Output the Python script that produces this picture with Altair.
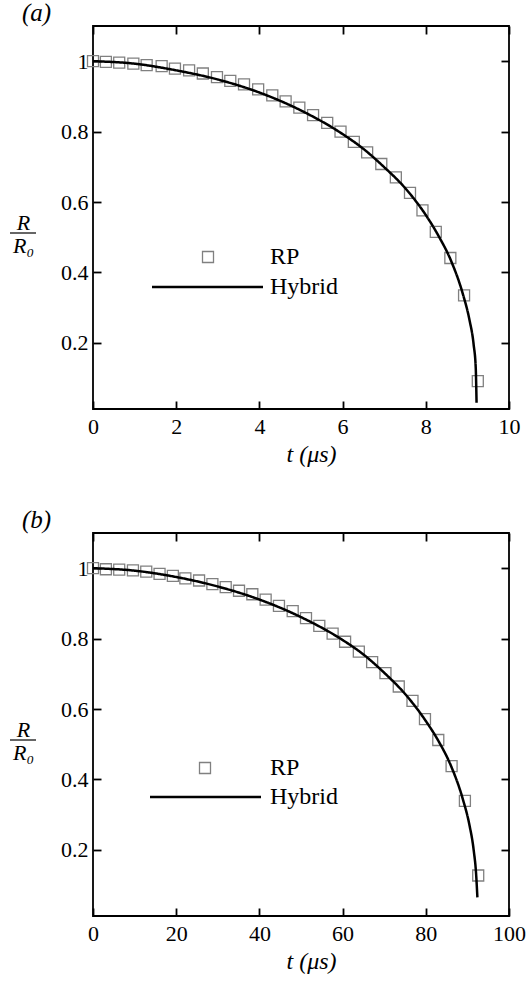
import altair as alt
import pandas as pd

FONT = "'Liberation Serif', 'Times New Roman', Times, 'DejaVu Serif', serif"

# ---- panel (a): t in microseconds ----
t_rp_a = [0, 0.31, 0.63, 0.97, 1.29, 1.65, 1.97, 2.31, 2.64, 2.98, 3.30, 3.63, 3.97, 4.31,
          4.63, 4.96, 5.29, 5.63, 5.95, 6.27, 6.59, 6.93, 7.28, 7.62, 7.92, 8.24, 8.59, 8.92, 9.25]
r_rp_a = [1.0, 0.998, 0.996, 0.993, 0.989, 0.986, 0.979, 0.974, 0.965, 0.955, 0.944, 0.934, 0.920,
          0.903, 0.886, 0.868, 0.847, 0.825, 0.800, 0.771, 0.741, 0.708, 0.670, 0.626, 0.576,
          0.515, 0.441, 0.335, 0.091]
t_hy_a = [0, 1, 2, 3, 4, 5, 6, 6.5, 7, 7.5, 8, 8.3, 8.6, 8.9, 9.05, 9.15, 9.2, 9.22]
r_hy_a = [1.0, 0.993, 0.974, 0.948, 0.911, 0.860, 0.793, 0.751, 0.699, 0.640, 0.563, 0.505,
          0.435, 0.335, 0.265, 0.195, 0.13, 0.03]

# ---- panel (b) ----
t_rp_b = [0, 3.1, 6.3, 9.6, 12.8, 16.0, 19.2, 22.2, 25.5, 28.7, 31.9, 35.1, 38.3, 41.5, 44.7,
          48.0, 51.2, 54.4, 57.6, 60.6, 63.9, 67.1, 70.3, 73.5, 76.8, 79.8, 83.0, 86.2, 89.4, 92.6]
r_rp_b = [1.0, 0.997, 0.996, 0.994, 0.990, 0.984, 0.978, 0.971, 0.965, 0.955, 0.946, 0.936,
          0.926, 0.911, 0.893, 0.878, 0.858, 0.836, 0.814, 0.791, 0.763, 0.733, 0.702, 0.664,
          0.623, 0.571, 0.512, 0.438, 0.339, 0.127]
t_hy_b = [0, 10, 20, 30, 40, 50, 60, 65, 70, 75, 80, 83, 86, 89, 90.5, 91.5, 92.1, 92.4]
r_hy_b = [1.0, 0.993, 0.975, 0.948, 0.911, 0.861, 0.796, 0.755, 0.703, 0.643, 0.566, 0.510,
          0.440, 0.34, 0.27, 0.20, 0.13, 0.065]

xticks_a = [0, 2, 4, 6, 8, 10]
xticks_b = [0, 20, 40, 60, 80, 100]
yticks = [0.2, 0.4, 0.6, 0.8, 1.0]
ydomain = [0.012, 1.1]

W, H = 416, 383


def panel(t_rp, r_rp, t_hy, r_hy, xmax, xticks, label, leg):
    df_rp = pd.DataFrame({"t": t_rp, "r": r_rp, "series": ["RP"] * len(t_rp)})
    df_hy = pd.DataFrame({"t": t_hy, "r": r_hy, "series": ["Hybrid"] * len(t_hy)})
    xs = alt.Scale(domain=[0, xmax], nice=False, zero=False)
    ys = alt.Scale(domain=ydomain, nice=False, zero=False)
    common = dict(tickSize=8, offset=-8, domain=False, grid=False, tickColor="black",
                  tickWidth=1.8, labelFont=FONT, labelFontSize=22, labelColor="black",
                  labelOverlap=False, labelFlush=False)
    x_bottom = alt.Axis(orient="bottom", values=xticks, format="d", labelPadding=7,
                        title="t (μs)", titleFont=FONT, titleFontStyle="italic",
                        titleFontWeight="normal", titleFontSize=24, titleColor="black",
                        titleX=218, titleY=53, titleBaseline="middle", titleAlign="center",
                        **common)
    y_left = alt.Axis(orient="left", values=yticks, format="~g", labelPadding=5,
                      title=["R", "R₀"], titleFont=FONT, titleFontStyle="italic",
                      titleFontWeight="normal", titleFontSize=22, titleColor="black",
                      titleAngle=0, titleAlign="center", titleBaseline="middle",
                      titleLineHeight=23, titleX=-78, titleY=196, **common)
    x_top = alt.Axis(orient="top", values=xticks, labels=False, title=None, **common)
    y_right = alt.Axis(orient="right", values=yticks, labels=False, title=None, **common)

    pts = alt.Chart(df_rp).mark_point(
        shape="square", filled=False, size=121, color="#808080", strokeWidth=1.3, opacity=1
    ).encode(
        x=alt.X("t:Q", scale=xs, axis=x_bottom),
        y=alt.Y("r:Q", scale=ys, axis=y_left),
        shape=alt.Shape("series:N", scale=alt.Scale(domain=["RP"], range=["square"]),
                        legend=alt.Legend(orient="none", legendX=leg["px"], legendY=leg["py"],
                                          title=None, padding=0, symbolType="square",
                                          symbolSize=121, symbolStrokeColor="#808080",
                                          symbolFillColor="white", symbolStrokeWidth=1.3,
                                          labelFont=FONT, labelFontSize=24, labelColor="black",
                                          labelOffset=leg["po"], clipHeight=24)),
    )
    ln = alt.Chart(df_hy).mark_line(
        color="black", strokeWidth=2.5, interpolate="monotone"
    ).encode(
        x=alt.X("t:Q", scale=xs, axis=x_top),
        y=alt.Y("r:Q", scale=ys, axis=y_right),
        strokeDash=alt.StrokeDash("series:N",
                                  scale=alt.Scale(domain=["Hybrid"], range=[[1, 0]]),
                                  legend=alt.Legend(orient="none", legendX=leg["lx"],
                                                    legendY=leg["ly"], title=None, padding=0,
                                                    symbolType="stroke", symbolSize=12321,
                                                    symbolStrokeColor="black",
                                                    symbolStrokeWidth=2.5,
                                                    labelFont=FONT, labelFontSize=24,
                                                    labelColor="black",
                                                    labelOffset=leg["lo"], clipHeight=24)),
    )
    bar = alt.Chart(alt.Data(values=[{"k": 0}])).mark_rule(
        color="black", strokeWidth=1.2
    ).encode(x=alt.value(-83), x2=alt.value(-57), y=alt.value(207))

    return alt.layer(pts, ln, bar).resolve_axis(
        x="independent", y="independent"
    ).properties(
        width=W, height=H,
        title=alt.TitleParams(label, anchor="start", frame="group", dx=-71, font=FONT,
                              fontSize=25, fontStyle="italic", fontWeight="normal",
                              color="black", baseline="alphabetic", offset=-21),
    )


top = panel(t_rp_a, r_rp_a, t_hy_a, r_hy_a, 10, xticks_a, "(a)",
            dict(px=103, py=219, po=50, lx=57.5, ly=249, lo=5.5))
bot = panel(t_rp_b, r_rp_b, t_hy_b, r_hy_b, 100, xticks_b, "(b)",
            dict(px=100, py=223, po=53, lx=55.5, ly=252, lo=7.5))

chart = alt.vconcat(top, bot, spacing=124, bounds="flush").resolve_scale(
    x="independent", y="independent", shape="independent", strokeDash="independent"
).properties(
    padding={"left": 8, "top": 0, "right": 0, "bottom": 0}
).configure(
    background="white"
).configure_view(
    stroke="black", strokeWidth=1.8
)

chart.save("out.html", embed_options={"renderer": "svg", "actions": False})
